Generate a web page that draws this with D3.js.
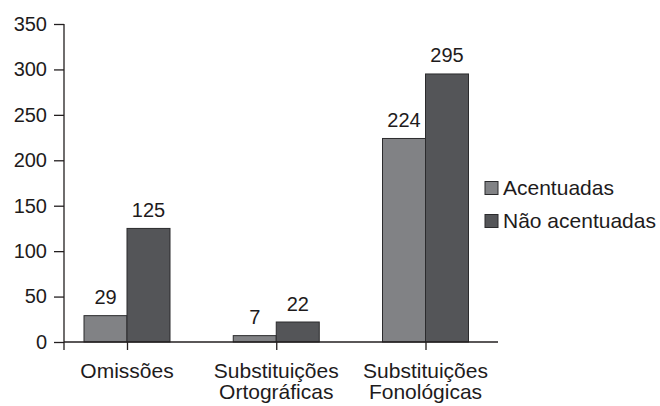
<!DOCTYPE html>
<html>
<head>
<meta charset="utf-8">
<script src="https://cdn.jsdelivr.net/npm/d3@7/dist/d3.min.js"></script>
<style>
  html, body { margin: 0; padding: 0; background: #fff; }
  svg { display: block; font-family: "Liberation Sans", Arial, Helvetica, sans-serif; }
</style>
</head>
<body>
<svg id="chart" width="660" height="406"></svg>
<script>
// Error counts by category and stress type
const categories = ["Omissões", "Substituições Ortográficas", "Substituições Fonológicas"];
const categoryLines = [["Omissões"], ["Substituições", "Ortográficas"], ["Substituições", "Fonológicas"]];
const seriesNames = ["Acentuadas", "Não acentuadas"];
const acentuadas = [29, 7, 224];
const naoAcentuadas = [125, 22, 295];
const yTicks = [0, 50, 100, 150, 200, 250, 300, 350];

const colors = ["#818285", "#545558"];
const textColor = "#1e1b1c";

const svg = d3.select("#chart");

const axisX0 = 64, axisX1 = 498;
const yTop = 24, yBase = 342;

const y = d3.scaleLinear().domain([0, 350]).range([yBase, yTop]);
const x = d3.scalePoint().domain(categories).range([127, 425.5]);
const barW = 43;

const rows = categories.map((c, i) => ({ cat: c, vals: [acentuadas[i], naoAcentuadas[i]] }));

// Bars
const groups = svg.append("g").selectAll("g").data(rows).join("g");
groups.selectAll("rect")
  .data(d => d.vals.map((v, k) => ({ cat: d.cat, v, k })))
  .join("rect")
  .attr("x", d => x(d.cat) + (d.k === 0 ? -barW : 0))
  .attr("y", d => y(d.v))
  .attr("width", barW)
  .attr("height", d => y(0) - y(d.v))
  .attr("fill", d => colors[d.k])
  .attr("stroke", "#2b2b2d")
  .attr("stroke-width", 1);

// Value labels
groups.selectAll("text")
  .data(d => d.vals.map((v, k) => ({ cat: d.cat, v, k })))
  .join("text")
  .attr("x", d => x(d.cat) + (d.k === 0 ? -barW / 2 : barW / 2))
  .attr("y", d => y(d.v) - 11.5)
  .attr("text-anchor", "middle")
  .attr("font-size", 20)
  .attr("fill", textColor)
  .text(d => d.v);

// Y axis
const yAxis = svg.append("g")
  .attr("transform", `translate(${axisX0},0)`)
  .call(d3.axisLeft(y).tickValues(yTicks).tickSize(10).tickPadding(7).tickSizeOuter(0));
yAxis.select(".domain").remove();
yAxis.selectAll("line").attr("stroke", "#231f20").attr("stroke-width", 1.3);
yAxis.selectAll("text").attr("font-size", 20).attr("fill", textColor)
  .attr("font-family", "Liberation Sans, Arial, sans-serif");
yAxis.append("line")
  .attr("x1", 0).attr("x2", 0).attr("y1", yTop).attr("y2", yBase + 8)
  .attr("stroke", "#231f20").attr("stroke-width", 1.3);

// X axis
const xAxis = svg.append("g")
  .attr("transform", `translate(0,${yBase})`)
  .call(d3.axisBottom(x).tickSize(8).tickSizeOuter(0).tickFormat(""));
xAxis.select(".domain").remove();
xAxis.selectAll("line").attr("stroke", "#231f20").attr("stroke-width", 1.3);
xAxis.append("line")
  .attr("x1", axisX0).attr("x2", axisX1).attr("y1", 0).attr("y2", 0)
  .attr("stroke", "#231f20").attr("stroke-width", 1.5);

// Category labels (multi-line)
const catLabels = svg.append("g").selectAll("text").data(categories).join("text")
  .attr("x", d => x(d))
  .attr("y", 378)
  .attr("text-anchor", "middle")
  .attr("font-size", 21)
  .attr("fill", textColor);
catLabels.selectAll("tspan")
  .data((d, i) => categoryLines[i])
  .join("tspan")
  .attr("x", function() { return d3.select(this.parentNode).attr("x"); })
  .attr("dy", (d, i) => i === 0 ? 0 : 21)
  .text(d => d);

// Legend
const legend = svg.append("g").attr("transform", "translate(485,0)");
const legendY = [188, 221];
seriesNames.forEach((name, i) => {
  legend.append("rect")
    .attr("x", 0).attr("y", legendY[i] - 6.5)
    .attr("width", 13).attr("height", 13)
    .attr("fill", colors[i]).attr("stroke", "#2b2b2d").attr("stroke-width", 1);
  legend.append("text")
    .attr("x", 18).attr("y", legendY[i])
    .attr("dy", "0.35em")
    .attr("font-size", 21)
    .attr("fill", textColor)
    .text(name);
});
</script>
</body>
</html>
